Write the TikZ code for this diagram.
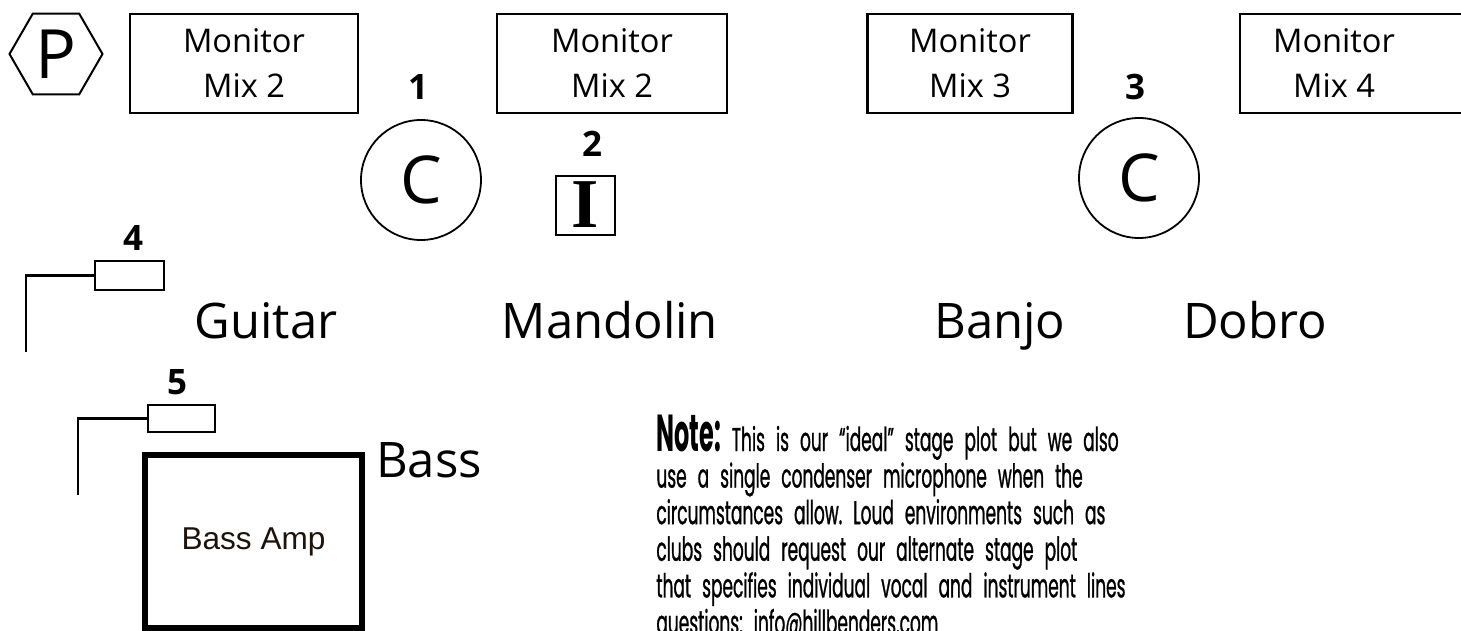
\documentclass[tikz,border=0pt]{standalone}
\usepackage{fontspec}
\setmainfont{Open Sans}
\newfontfamily\ampfont{Liberation Sans}
\newfontfamily\serfont{Liberation Serif}
\newfontfamily\notefont[FakeStretch=0.515,FakeBold=0.8]{Poppins}
\newfontfamily\noteheadfont[FakeStretch=0.46]{Poppins}
\usetikzlibrary{shapes.geometric}

\begin{document}
\begin{tikzpicture}[x=0.5pt, y=-0.5pt,
  monbox/.style={draw, line width=1.2pt, minimum height=49.5pt},
  montext/.style={align=center, font=\fontsize{16.3}{22.5}\selectfont},
  vocal/.style={circle, draw, line width=0.9pt, minimum size=60pt, inner sep=0pt, font=\fontsize{33}{33}\selectfont},
  chan/.style={font=\bfseries\fontsize{17.5}{17.5}\selectfont},
  inst/.style={anchor=base, font=\fontsize{24.5}{24.5}\selectfont},
  micbox/.style={draw, line width=1.1pt, inner sep=0pt},
  stand/.style={line width=1.3pt}]
\useasboundingbox (0,0) rectangle (1461,631);
\clip (0,0) rectangle (1461,631);

% power and monitors
\node (P) at (56,54) [regular polygon, regular polygon sides=6, draw, line width=1pt, minimum size=46.5pt, inner sep=0pt, font=\fontsize{34}{34}\selectfont]{P};
\node (mon1) at (244,63.5) [monbox, montext, minimum width=114pt]{Monitor\\Mix 2};
\node (mon2) at (612,63.5) [monbox, montext, minimum width=115pt]{Monitor\\Mix 2};
\node (mon3) at (970,63.5) [monbox, montext, minimum width=102.5pt]{Monitor\\Mix 3};
\node (mon4) at (1360,63.5) [monbox, minimum width=120pt]{};
\node (mix4) at (1334,63.5) [montext]{Monitor\\Mix 4};

% vocal mics
\node (num1) at (418,87) [chan]{1};
\node (mic1) at (421,180) [vocal]{C};
\node (num2) at (592,144) [chan]{2};
\node (mic2) at (585.5,205) [draw, line width=1pt, minimum size=29.5pt, inner sep=0pt, font=\serfont\bfseries\fontsize{35}{35}\selectfont]{I};
\node (num3) at (1135,87) [chan]{3};
\node (mic3) at (1139,178) [vocal]{C};

% instruments
\node (guitar) at (266,338) [inst]{Guitar};
\node (mandolin) at (610,338) [inst]{Mandolin};
\node (banjo) at (1000,338) [inst]{Banjo};
\node (dobro) at (1255,338) [inst]{Dobro};
\node (bass) at (429,477) [inst]{Bass};

% instrument mics
\node (num4) at (133,238) [chan]{4};
\node (mic4) at (129.5,275.5) [micbox, minimum width=34.5pt, minimum height=14.5pt]{};
\coordinate (stand4) at (26,352);
\draw [stand] (mic4.west) -- (stand4 |- mic4.west) -- (stand4);

\node (num5) at (177,382) [chan]{5};
\node (mic5) at (181.5,418.5) [micbox, minimum width=33.5pt, minimum height=13.5pt]{};
\coordinate (stand5) at (78,495);
\draw [stand] (mic5.west) -- (stand5 |- mic5.west) -- (stand5);

\node (amp) at (253.5,541.5) [draw, line width=3pt, minimum width=108.5pt, minimum height=86.5pt, text=black!85!brown, font=\ampfont\fontsize{15.8}{15.8}\selectfont]{Bass Amp};

% note
\node (note) at (656,451) [anchor=base west, inner sep=0pt, text width=320pt, align=left, font=\notefont\frenchspacing\fontsize{16.5}{18.3}\selectfont]{{\noteheadfont\bfseries\fontsize{26}{18.3}\selectfont Note:} This is our “ideal” stage plot but we also\\
use a single condenser microphone when the\\
circumstances allow. Loud environments such as\\
clubs should request our alternate stage plot\\
that specifies individual vocal and instrument lines\\
questions: info@hillbenders.com};
\end{tikzpicture}
\end{document}
